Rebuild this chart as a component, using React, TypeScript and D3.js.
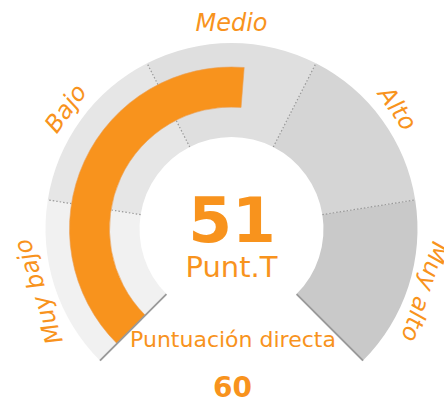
import React from "react";
import * as d3 from "d3";

const bandLabels = ["Muy bajo", "Bajo", "Medio", "Alto", "Muy alto"];
const bandEdges = [20, 32, 44, 56, 68, 80];
const bandColors = ["#f1f1f1", "#e6e6e6", "#dfdfdf", "#d5d5d5", "#c9c9c9"];
const scoreT = 51;
const rawScore = 60;
const scoreUnit = "Punt.T";
const rawLabel = "Puntuación directa";

const W = 444;
const H = 403;
const cx = 231.5;
const cy = 229;
const ORANGE = "#f8931d";
const FONT = "DejaVu Sans, Verdana, sans-serif";

export default function App() {
  const angle = d3
    .scaleLinear()
    .domain([bandEdges[0], bandEdges[bandEdges.length - 1]])
    .range([(-135 * Math.PI) / 180, (135 * Math.PI) / 180]);

  const rIn = 92;
  const rOut = 186;
  const bandArc = d3.arc<any>().innerRadius(rIn).outerRadius(rOut);
  const valueArc = d3.arc<any>().innerRadius(122).outerRadius(162);

  const bands = bandLabels.map((label, i) => ({
    label,
    color: bandColors[i],
    a0: angle(bandEdges[i]),
    a1: angle(bandEdges[i + 1]),
  }));

  const pt = (a: number, r: number) => [Math.sin(a) * r, -Math.cos(a) * r];

  const startA = angle(bandEdges[0]);
  const endA = angle(bandEdges[bandEdges.length - 1]);

  return (
    <svg
      width={W}
      height={H}
      style={{ position: "absolute", left: 0, top: 0 }}
      fontFamily={FONT}
    >
      <g transform={`translate(${cx},${cy})`}>
        {bands.map((b, i) => (
          <path
            key={i}
            d={bandArc({ startAngle: b.a0, endAngle: b.a1 }) as string}
            fill={b.color}
          />
        ))}
        {bandEdges.slice(1, -1).map((v, i) => {
          const a = angle(v);
          const [x1, y1] = pt(a, rIn);
          const [x2, y2] = pt(a, rOut);
          return (
            <line
              key={i}
              x1={x1}
              y1={y1}
              x2={x2}
              y2={y2}
              stroke="#999"
              strokeWidth={1.2}
              strokeDasharray="1.5,2"
            />
          );
        })}
        <path
          d={valueArc({ startAngle: startA, endAngle: angle(scoreT) }) as string}
          fill={ORANGE}
          stroke="#e9a15a"
          strokeWidth={0.6}
        />
        {[startA, endA].map((a, i) => {
          const [x1, y1] = pt(a, rIn);
          const [x2, y2] = pt(a, rOut);
          return (
            <line
              key={i}
              x1={x1}
              y1={y1}
              x2={x2}
              y2={y2}
              stroke="#999"
              strokeWidth={1.8}
            />
          );
        })}
        {bands.map((b, i) => {
          const a = (b.a0 + b.a1) / 2;
          const labelR = i === 2 ? 198 : i === 1 || i === 3 ? 197 : 195;
          const [x, y] = pt(a, labelR);
          const deg = (a * 180) / Math.PI;
          return (
            <text
              key={i}
              transform={`translate(${x},${y}) rotate(${deg})`}
              textAnchor="middle"
              fontSize={24}
              fontStyle="italic"
              fill={ORANGE}
            >
              {b.label}
            </text>
          );
        })}
      </g>
      <text x={232} y={242} textAnchor="middle" fontSize={63} fontWeight="bold" fill={ORANGE}>
        {scoreT}
      </text>
      <text x={231.5} y={277} textAnchor="middle" fontSize={29} fill={ORANGE}>
        {scoreUnit}
      </text>
      <text x={233} y={347} textAnchor="middle" fontSize={22} fill={ORANGE}>
        {rawLabel}
      </text>
      <text x={232.5} y={397} textAnchor="middle" fontSize={28} fontWeight="bold" fill={ORANGE}>
        {rawScore}
      </text>
    </svg>
  );
}
